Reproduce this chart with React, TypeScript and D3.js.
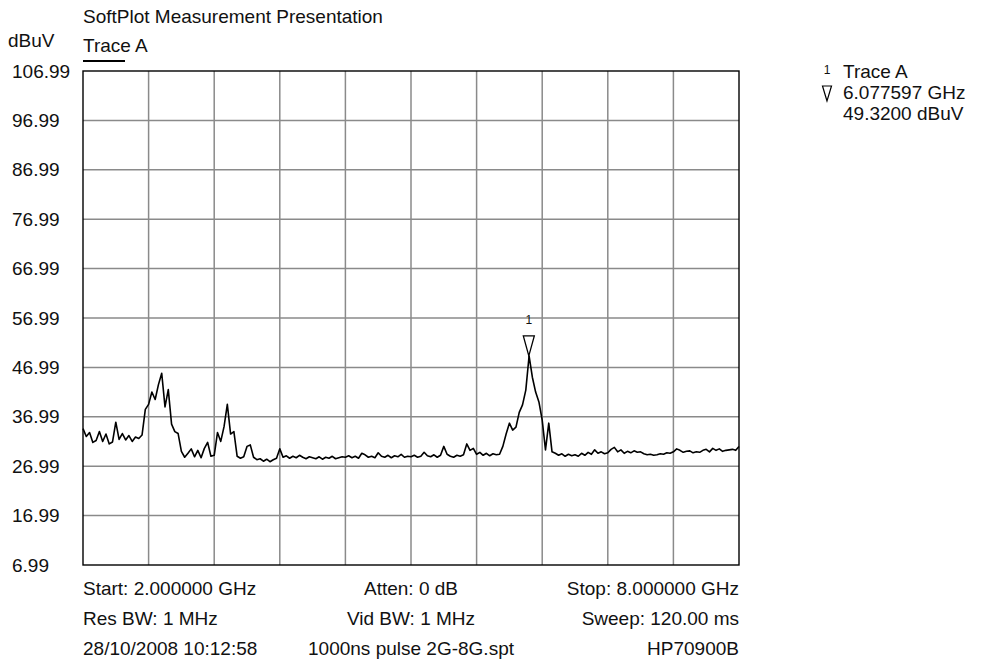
import { useEffect, useRef } from "react";
import * as d3 from "d3";

// sweep: 2 GHz .. 8 GHz, one reading every 30 MHz
const sweepStartGHz = 2.0;
const sweepStepGHz = 0.03;
const traceLevels = [
	34.6, 33.0, 33.8, 31.8, 32.2, 34.0, 32.0, 33.5, 31.5, 31.9,
	35.9, 32.4, 33.6, 32.3, 33.2, 32.0, 32.9, 32.6, 33.3, 38.5,
	39.5, 42.0, 40.5, 43.5, 45.8, 39.0, 42.5, 35.5, 34.0, 33.6,
	30.0, 28.8, 29.6, 30.5, 28.9, 30.2, 28.7, 30.6, 31.8, 29.0,
	29.2, 33.8, 32.0, 35.0, 39.5, 33.5, 34.0, 29.0, 28.6, 28.9,
	31.0, 31.3, 28.8, 28.3, 28.5, 28.0, 28.4, 27.9, 28.3, 28.6,
	30.5, 28.8, 29.1, 28.6, 29.0, 28.7, 29.2, 28.8, 28.5, 28.9,
	28.7, 28.5, 28.9, 28.4, 28.8, 28.6, 29.0, 28.5, 28.7, 28.9,
	28.8, 29.1, 28.7, 29.0, 28.6, 29.6, 29.3, 28.8, 29.0, 28.7,
	29.7, 29.0, 28.8, 29.2, 28.7, 29.1, 28.9, 29.4, 28.8, 29.0,
	28.9, 29.2, 28.8, 29.0, 29.8, 29.1, 28.9, 29.3, 28.8, 29.2,
	31.0, 29.4, 29.0, 28.8, 29.2, 29.0, 29.3, 31.5, 30.2, 30.6,
	29.4, 29.8, 29.2, 29.6, 29.1, 29.5, 29.3, 29.4, 31.0, 33.5,
	35.7, 34.3, 34.9, 37.9, 39.4, 42.4, 49.3, 45.0, 42.0, 40.0,
	36.3, 30.3, 35.7, 29.9, 29.6, 29.2, 29.5, 29.0, 29.4, 29.1,
	29.3, 29.0, 29.6, 29.2, 29.8, 29.4, 30.3, 29.6, 29.9, 29.5,
	29.7, 30.4, 30.8, 29.9, 30.3, 29.6, 30.0, 29.7, 30.1, 29.8,
	29.9, 29.5, 29.3, 29.4, 29.2, 29.3, 29.5, 29.4, 29.7, 29.6,
	29.9, 30.5, 30.2, 29.8, 30.0, 30.1, 29.7, 29.9, 29.8, 30.2,
	30.4, 29.9, 30.6, 30.2, 30.5, 30.0, 30.2, 30.3, 30.4, 30.2,
	31.0
];

const yTickLabels = [106.99, 96.99, 86.99, 76.99, 66.99, 56.99, 46.99, 36.99, 26.99, 16.99, 6.99];
const xGridFreqs = [2.0, 2.6, 3.2, 3.8, 4.4, 5.0, 5.6, 6.2, 6.8, 7.4, 8.0];

const markerFreqGHz = 6.077597;
const markerLevel = 49.32;
const markerLines = ["Trace A", "6.077597 GHz", "49.3200 dBuV"];

const footerLeft = ["Start: 2.000000 GHz", "Res BW: 1 MHz", "28/10/2008 10:12:58"];
const footerCenter = ["Atten: 0 dB", "Vid BW: 1 MHz", "1000ns pulse 2G-8G.spt"];
const footerRight = ["Stop: 8.000000 GHz", "Sweep: 120.00 ms", "HP70900B"];

const font = "Arial, 'Liberation Sans', sans-serif";
const fontSize = 19;

export default function App() {
	const ref = useRef<HTMLDivElement>(null);

	useEffect(() => {
		if (!ref.current) return;
		const width = 995;
		const height = 660;
		const plot = { left: 83, right: 739, top: 71, bottom: 565 };

		const svg = d3
			.select(ref.current)
			.append("svg")
			.attr("width", width)
			.attr("height", height)
			.style("position", "absolute")
			.style("left", 0)
			.style("top", 0)
			.style("background", "#fff")
			.attr("font-family", font)
			.attr("fill", "#111");

		const x = d3.scaleLinear().domain([2, 8]).range([plot.left, plot.right]);
		const y = d3.scaleLinear().domain([6.99, 106.99]).range([plot.bottom, plot.top]);

		// grid
		const grid = svg.append("g").attr("stroke", "#8a8a8a").attr("stroke-width", 1.5);
		grid
			.selectAll("line.v")
			.data(xGridFreqs.slice(1, -1))
			.join("line")
			.attr("class", "v")
			.attr("x1", (d) => x(d))
			.attr("x2", (d) => x(d))
			.attr("y1", plot.top)
			.attr("y2", plot.bottom);
		grid
			.selectAll("line.h")
			.data(yTickLabels.slice(1, -1))
			.join("line")
			.attr("class", "h")
			.attr("x1", plot.left)
			.attr("x2", plot.right)
			.attr("y1", (d) => y(d))
			.attr("y2", (d) => y(d));

		svg
			.append("rect")
			.attr("x", plot.left)
			.attr("y", plot.top)
			.attr("width", plot.right - plot.left)
			.attr("height", plot.bottom - plot.top)
			.attr("fill", "none")
			.attr("stroke", "#000")
			.attr("stroke-width", 1.4);

		// y tick labels (left aligned, as the instrument prints them)
		svg
			.append("g")
			.selectAll("text")
			.data(yTickLabels)
			.join("text")
			.attr("x", 12)
			.attr("y", (d) => y(d))
			.attr("dominant-baseline", "central")
			.attr("font-size", fontSize)
			.text((d) => d.toFixed(2));

		// trace
		const line = d3
			.line<number>()
			.x((_, i) => x(sweepStartGHz + i * sweepStepGHz))
			.y((d) => y(d));
		svg
			.append("path")
			.attr("d", line(traceLevels))
			.attr("fill", "none")
			.attr("stroke", "#000")
			.attr("stroke-width", 1.6)
			.attr("stroke-linejoin", "round");

		// marker
		const mx = x(markerFreqGHz);
		const my = y(markerLevel);
		svg
			.append("path")
			.attr("d", `M${mx},${my} L${mx - 5.5},${my - 20} L${mx + 5.5},${my - 20} Z`)
			.attr("fill", "#fff")
			.attr("stroke", "#000")
			.attr("stroke-width", 1.3);
		svg
			.append("text")
			.attr("x", mx)
			.attr("y", my - 36)
			.attr("text-anchor", "middle")
			.attr("dominant-baseline", "central")
			.attr("font-size", 12)
			.text("1");

		// header
		svg.append("text").attr("x", 83).attr("y", 16).attr("dominant-baseline", "central").attr("font-size", fontSize).text("SoftPlot Measurement Presentation");
		svg.append("text").attr("x", 8).attr("y", 40).attr("dominant-baseline", "central").attr("font-size", fontSize).text("dBuV");
		svg.append("text").attr("x", 83).attr("y", 45).attr("dominant-baseline", "central").attr("font-size", fontSize).text("Trace A");
		svg.append("line").attr("x1", 83).attr("x2", 125).attr("y1", 61).attr("y2", 61).attr("stroke", "#000").attr("stroke-width", 2);

		// marker legend
		svg.append("text").attr("x", 827).attr("y", 70).attr("text-anchor", "middle").attr("dominant-baseline", "central").attr("font-size", 12).text("1");
		svg
			.append("path")
			.attr("d", "M827,101 L822.5,86 L831.5,86 Z")
			.attr("fill", "none")
			.attr("stroke", "#000")
			.attr("stroke-width", 1.2);
		svg
			.append("g")
			.selectAll("text")
			.data(markerLines)
			.join("text")
			.attr("x", 843)
			.attr("y", (_, i) => 71 + i * 21)
			.attr("dominant-baseline", "central")
			.attr("font-size", fontSize)
			.text((d) => d);

		// footer
		const rowY = (i: number) => 588 + i * 30;
		const footer = svg.append("g").attr("font-size", fontSize).attr("dominant-baseline", "central");
		footer.selectAll("text.l").data(footerLeft).join("text").attr("class", "l").attr("x", plot.left).attr("y", (_, i) => rowY(i)).text((d) => d);
		footer.selectAll("text.c").data(footerCenter).join("text").attr("class", "c").attr("x", x(5)).attr("y", (_, i) => rowY(i)).attr("text-anchor", "middle").text((d) => d);
		footer.selectAll("text.r").data(footerRight).join("text").attr("class", "r").attr("x", plot.right).attr("y", (_, i) => rowY(i)).attr("text-anchor", "end").text((d) => d);

		return () => {
			svg.remove();
		};
	}, []);

	return <div ref={ref} />;
}
